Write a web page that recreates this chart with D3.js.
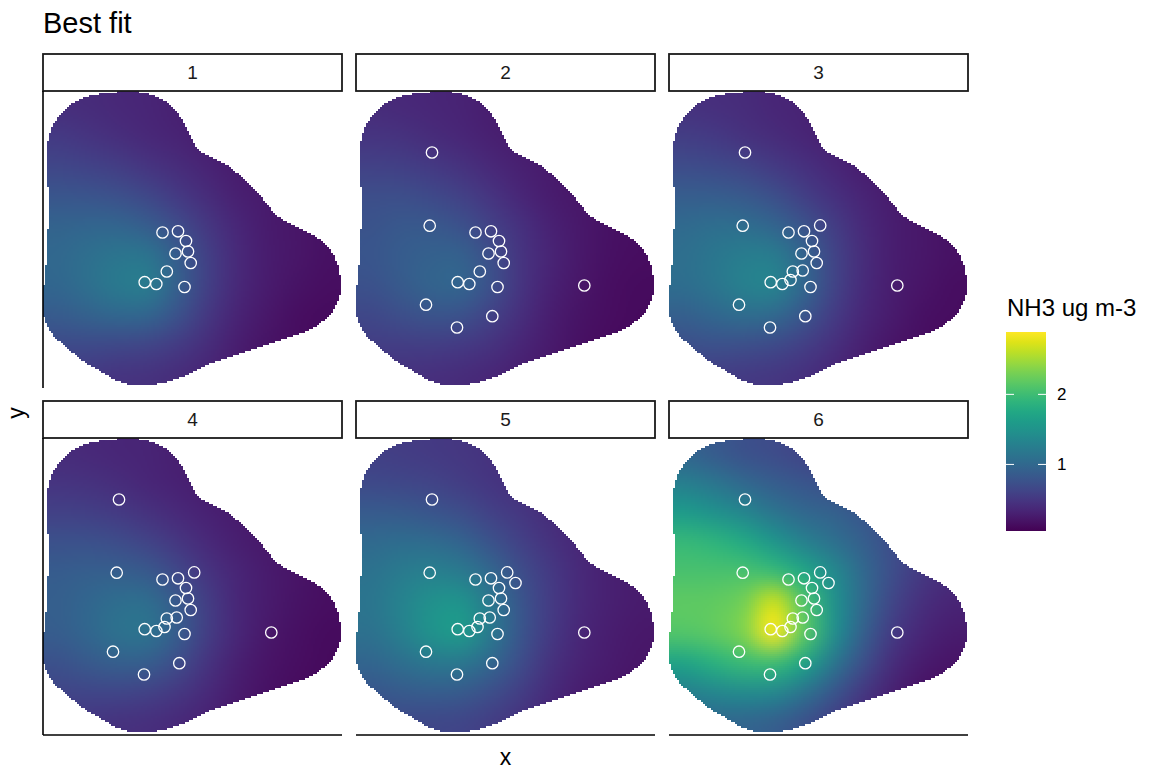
<!DOCTYPE html>
<html>
<head>
<meta charset="utf-8">
<script src="https://cdn.jsdelivr.net/npm/d3@7"></script>
<style>
body { margin: 0; background: #fff; }
text { font-family: "Liberation Sans", Arial, sans-serif; }
image { image-rendering: pixelated; }
</style>
</head>
<body>
<script>
// facet labels
var panels = ["1", "2", "3", "4", "5", "6"];

// monitoring sites (x, y in metres from the domain corner)
var siteX = [76, 73.7, 119.5, 135, 151.2, 159.5, 143, 132.5, 145, 147.7,
             133.7, 123.8, 121.5, 113.3, 101.7, 141.5, 228.3, 70, 136.3, 101];
var siteY = [235.5, 162.3, 155.5, 156.7, 162.6, 152, 147, 134.5, 136.5, 125,
             117.5, 116.5, 108, 104, 105.8, 101, 102.5, 83.3, 71.8, 60.5];

// which sites are used in each fit
var panelSites = [
    [2, 3, 6, 7, 8, 9, 11, 13, 14, 15],
    [0, 1, 2, 3, 6, 7, 8, 9, 11, 13, 14, 15, 16, 17, 18, 19],
    [0, 1, 2, 3, 4, 6, 7, 8, 9, 10, 11, 12, 13, 14, 15, 16, 17, 18, 19],
    [0, 1, 2, 3, 4, 6, 7, 8, 9, 10, 11, 12, 13, 14, 15, 16, 17, 18, 19],
    [0, 1, 2, 3, 4, 5, 6, 7, 8, 9, 10, 11, 12, 13, 14, 15, 16, 17, 18, 19],
    [0, 1, 2, 3, 4, 5, 6, 7, 8, 9, 10, 11, 12, 13, 14, 15, 16, 17, 18, 19]
];

// prediction grid, cell centres (rows listed north to south)
var gridX = [15, 45, 75, 105, 135, 165, 195, 225, 255, 285];
var gridY = [282, 252, 222, 192, 162, 132, 102, 72, 42, 12];

// NH3 ug m-3 on the grid, one block per fit
var field1 = [
    [0.42, 0.40, 0.37, 0.34, 0.30, 0.26, 0.22, 0.20, 0.18, 0.16],
    [0.52, 0.48, 0.42, 0.37, 0.32, 0.27, 0.23, 0.20, 0.18, 0.16],
    [0.64, 0.61, 0.55, 0.48, 0.40, 0.32, 0.26, 0.22, 0.19, 0.17],
    [0.80, 0.79, 0.74, 0.65, 0.52, 0.40, 0.30, 0.24, 0.20, 0.17],
    [0.94, 0.97, 0.96, 0.88, 0.70, 0.50, 0.35, 0.26, 0.21, 0.17],
    [1.00, 1.08, 1.15, 1.14, 0.86, 0.58, 0.38, 0.27, 0.21, 0.17],
    [0.98, 1.08, 1.20, 1.22, 0.90, 0.58, 0.37, 0.25, 0.19, 0.15],
    [0.85, 0.92, 0.98, 0.95, 0.75, 0.50, 0.32, 0.22, 0.16, 0.13],
    [0.68, 0.68, 0.66, 0.62, 0.53, 0.40, 0.28, 0.19, 0.14, 0.12],
    [0.55, 0.52, 0.48, 0.45, 0.40, 0.33, 0.24, 0.17, 0.13, 0.11]
];
var field2 = [
    [0.40, 0.38, 0.35, 0.32, 0.28, 0.24, 0.21, 0.19, 0.17, 0.15],
    [0.48, 0.45, 0.40, 0.35, 0.30, 0.25, 0.22, 0.19, 0.17, 0.15],
    [0.60, 0.58, 0.52, 0.45, 0.37, 0.30, 0.24, 0.20, 0.17, 0.15],
    [0.72, 0.72, 0.68, 0.60, 0.48, 0.36, 0.27, 0.21, 0.18, 0.15],
    [0.78, 0.82, 0.82, 0.76, 0.60, 0.44, 0.31, 0.23, 0.18, 0.15],
    [0.80, 0.86, 0.92, 0.92, 0.72, 0.48, 0.33, 0.23, 0.17, 0.14],
    [0.76, 0.84, 0.94, 0.95, 0.74, 0.48, 0.31, 0.21, 0.16, 0.13],
    [0.66, 0.72, 0.78, 0.76, 0.60, 0.42, 0.28, 0.19, 0.14, 0.12],
    [0.55, 0.56, 0.56, 0.52, 0.45, 0.34, 0.24, 0.17, 0.13, 0.11],
    [0.46, 0.45, 0.43, 0.40, 0.35, 0.29, 0.21, 0.15, 0.12, 0.10]
];
var field3 = [
    [0.45, 0.43, 0.40, 0.36, 0.32, 0.28, 0.24, 0.21, 0.19, 0.17],
    [0.55, 0.52, 0.46, 0.40, 0.34, 0.29, 0.25, 0.22, 0.19, 0.17],
    [0.70, 0.68, 0.62, 0.53, 0.44, 0.35, 0.28, 0.23, 0.20, 0.18],
    [0.88, 0.88, 0.83, 0.73, 0.58, 0.44, 0.33, 0.26, 0.21, 0.18],
    [1.02, 1.06, 1.05, 0.97, 0.78, 0.55, 0.38, 0.28, 0.22, 0.18],
    [1.08, 1.17, 1.24, 1.23, 0.95, 0.62, 0.40, 0.28, 0.22, 0.18],
    [1.05, 1.15, 1.28, 1.30, 0.98, 0.62, 0.39, 0.27, 0.20, 0.16],
    [0.90, 0.98, 1.04, 1.00, 0.80, 0.54, 0.35, 0.24, 0.17, 0.14],
    [0.72, 0.74, 0.72, 0.68, 0.57, 0.43, 0.30, 0.20, 0.15, 0.12],
    [0.58, 0.56, 0.53, 0.50, 0.44, 0.36, 0.26, 0.18, 0.14, 0.12]
];
var field4 = [
    [0.40, 0.38, 0.36, 0.33, 0.29, 0.25, 0.21, 0.19, 0.17, 0.15],
    [0.48, 0.46, 0.41, 0.36, 0.31, 0.26, 0.22, 0.19, 0.17, 0.15],
    [0.60, 0.58, 0.53, 0.46, 0.38, 0.31, 0.25, 0.21, 0.18, 0.16],
    [0.75, 0.75, 0.71, 0.62, 0.50, 0.38, 0.29, 0.23, 0.19, 0.16],
    [0.86, 0.90, 0.90, 0.84, 0.67, 0.48, 0.34, 0.25, 0.20, 0.16],
    [0.90, 0.98, 1.06, 1.07, 0.83, 0.55, 0.36, 0.25, 0.19, 0.15],
    [0.88, 0.98, 1.10, 1.12, 0.86, 0.55, 0.35, 0.23, 0.17, 0.13],
    [0.76, 0.83, 0.90, 0.88, 0.70, 0.47, 0.30, 0.20, 0.15, 0.12],
    [0.62, 0.63, 0.63, 0.60, 0.50, 0.38, 0.26, 0.18, 0.13, 0.11],
    [0.50, 0.49, 0.46, 0.43, 0.38, 0.31, 0.22, 0.16, 0.12, 0.10]
];
var field5 = [
    [0.58, 0.56, 0.53, 0.50, 0.45, 0.40, 0.35, 0.31, 0.28, 0.25],
    [0.68, 0.66, 0.62, 0.56, 0.49, 0.42, 0.36, 0.32, 0.28, 0.25],
    [0.85, 0.84, 0.80, 0.72, 0.60, 0.50, 0.40, 0.33, 0.29, 0.26],
    [1.02, 1.05, 1.04, 0.95, 0.78, 0.60, 0.46, 0.36, 0.30, 0.26],
    [1.12, 1.22, 1.28, 1.22, 1.00, 0.72, 0.52, 0.38, 0.30, 0.26],
    [1.15, 1.30, 1.48, 1.52, 1.18, 0.80, 0.54, 0.38, 0.30, 0.25],
    [1.10, 1.26, 1.50, 1.58, 1.20, 0.80, 0.52, 0.36, 0.28, 0.23],
    [0.96, 1.06, 1.18, 1.18, 0.98, 0.70, 0.46, 0.32, 0.25, 0.21],
    [0.80, 0.84, 0.86, 0.84, 0.72, 0.55, 0.39, 0.28, 0.22, 0.19],
    [0.66, 0.67, 0.66, 0.63, 0.56, 0.45, 0.33, 0.25, 0.20, 0.17]
];
var field6 = [
    [0.95, 0.85, 0.75, 0.70, 0.62, 0.55, 0.48, 0.42, 0.36, 0.32],
    [1.25, 1.15, 1.00, 0.88, 0.80, 0.72, 0.62, 0.52, 0.44, 0.38],
    [1.60, 1.50, 1.35, 1.15, 1.00, 0.92, 0.80, 0.65, 0.52, 0.44],
    [1.95, 1.90, 1.78, 1.55, 1.30, 1.10, 0.90, 0.70, 0.55, 0.45],
    [2.08, 2.08, 2.08, 2.00, 1.75, 1.40, 1.00, 0.70, 0.50, 0.40],
    [2.18, 2.20, 2.30, 2.68, 2.12, 1.50, 1.00, 0.62, 0.42, 0.33],
    [2.12, 2.18, 2.35, 2.85, 2.18, 1.46, 0.90, 0.52, 0.34, 0.27],
    [1.70, 1.85, 1.98, 2.00, 1.70, 1.16, 0.72, 0.40, 0.25, 0.20],
    [1.25, 1.35, 1.40, 1.36, 1.12, 0.80, 0.50, 0.30, 0.18, 0.15],
    [0.95, 0.98, 0.96, 0.90, 0.76, 0.56, 0.38, 0.24, 0.15, 0.12]
];
var fields = [field1, field2, field3, field4, field5, field6];

// model domain boundary (x, y)
var outline = [
    [17, 273], [30, 285], [50, 293], [74, 296], [97, 296], [117, 290], [130, 280],
    [140, 267], [147, 253], [154, 240], [164, 233], [184, 223], [200, 210],
    [214, 197], [227, 180], [237, 170], [250, 163], [270, 153], [284, 143],
    [292, 130], [297, 113], [297, 93], [290, 77], [280, 67], [264, 57],
    [244, 50], [224, 43], [204, 37], [184, 30], [164, 23], [144, 13], [124, 6],
    [97, 2], [77, 6], [57, 17], [40, 27], [24, 40], [10, 53], [2, 67], [0, 87],
    [2, 113], [4, 133], [5, 160], [7, 180], [5, 200], [4, 223], [5, 247], [10, 263]
];

var valueRange = [0.05, 2.89];
var legendTicks = [1, 2];

var width = 1156,
    height = 769;

var colX = [43, 356, 669],
    rowY = [91, 438],
    panelW = 299,
    panelH = 297,
    stripH = 37,
    cellHalf = 15,
    rasterN = 150; // output raster is 150 x 150 pixels

var color = d3.scaleSequential(d3.interpolateViridis).domain(valueRange);

var gx0 = gridX[0] - cellHalf,
    gx1 = gridX[gridX.length - 1] + cellHalf,
    gy0 = gridY[0] + cellHalf,
    gy1 = gridY[gridY.length - 1] - cellHalf;

// paint one grid as a raster, smoothed when scaled up, cut to the domain
function rasterUrl(grid) {
    var small = document.createElement("canvas");
    small.width = gridX.length;
    small.height = gridY.length;
    var ctx = small.getContext("2d");
    grid.forEach(function(row, r) {
        row.forEach(function(v, c) {
            ctx.fillStyle = color(v);
            ctx.fillRect(c, r, 1, 1);
        });
    });

    var big = document.createElement("canvas");
    big.width = rasterN;
    big.height = rasterN;
    var bctx = big.getContext("2d");
    bctx.imageSmoothingEnabled = true;
    bctx.imageSmoothingQuality = "high";
    bctx.drawImage(small, 0, 0, rasterN, rasterN);

    var px = d3.scaleLinear().domain([gx0, gx1]).range([0, rasterN]);
    var py = d3.scaleLinear().domain([gy0, gy1]).range([0, rasterN]);
    bctx.globalCompositeOperation = "destination-in";
    bctx.beginPath();
    d3.line()
        .x(function(d) { return px(d[0]); })
        .y(function(d) { return py(d[1]); })
        .curve(d3.curveCatmullRomClosed)
        .context(bctx)(outline);
    bctx.fillStyle = "#000";
    bctx.fill();

    // hard cell edges, as in a raster
    var img = bctx.getImageData(0, 0, rasterN, rasterN);
    for (var k = 3; k < img.data.length; k += 4) {
        img.data[k] = img.data[k] >= 128 ? 255 : 0;
    }
    bctx.globalCompositeOperation = "source-over";
    bctx.putImageData(img, 0, 0);
    return big.toDataURL();
}

var svg = d3.select("body").append("svg")
    .attr("width", width)
    .attr("height", height);

var defs = svg.append("defs");

svg.append("text")
    .attr("x", 43)
    .attr("y", 33)
    .attr("font-size", "29px")
    .attr("fill", "#000")
    .text("Best fit");

panels.forEach(function(label, i) {
    var x0 = colX[i % 3],
        y0 = rowY[Math.floor(i / 3)];

    var xs = d3.scaleLinear().domain([0, 299]).range([x0, x0 + panelW]);
    var ys = d3.scaleLinear().domain([0, 297]).range([y0 + panelH, y0]);

    svg.append("image")
        .attr("x", xs(gx0))
        .attr("y", ys(gy0))
        .attr("width", xs(gx1) - xs(gx0))
        .attr("height", ys(gy1) - ys(gy0))
        .attr("preserveAspectRatio", "none")
        .attr("href", rasterUrl(fields[i]));

    svg.append("g").selectAll("circle")
        .data(panelSites[i])
        .enter().append("circle")
        .attr("cx", function(d) { return xs(siteX[d]); })
        .attr("cy", function(d) { return ys(siteY[d]); })
        .attr("r", 5.7)
        .style("fill", "none")
        .style("stroke", "#fff")
        .style("stroke-width", 1.3);

    // strip
    svg.append("rect")
        .attr("x", x0)
        .attr("y", y0 - stripH)
        .attr("width", panelW)
        .attr("height", stripH)
        .style("fill", "#fff")
        .style("stroke", "#1a1a1a")
        .style("stroke-width", 1.8);
    svg.append("text")
        .attr("x", x0 + panelW / 2)
        .attr("y", y0 - stripH / 2)
        .attr("dy", "0.35em")
        .attr("text-anchor", "middle")
        .attr("font-size", "19px")
        .attr("fill", "#1a1a1a")
        .text(label);

    // axis lines
    if (i % 3 === 0) {
        svg.append("line")
            .attr("x1", x0).attr("x2", x0)
            .attr("y1", y0).attr("y2", y0 + panelH)
            .style("stroke", "#000")
            .style("stroke-width", 1.6);
    }
    if (i >= 3) {
        svg.append("line")
            .attr("x1", x0).attr("x2", x0 + panelW)
            .attr("y1", y0 + panelH).attr("y2", y0 + panelH)
            .style("stroke", "#000")
            .style("stroke-width", 1.6);
    }
});

// axis titles
svg.append("text")
    .attr("x", (colX[0] + colX[2] + panelW) / 2)
    .attr("y", 765)
    .attr("text-anchor", "middle")
    .attr("font-size", "23px")
    .text("x");
svg.append("text")
    .attr("transform", "translate(24," + ((rowY[0] + rowY[1] + panelH) / 2) + ") rotate(-90)")
    .attr("text-anchor", "middle")
    .attr("font-size", "23px")
    .text("y");

// colour bar
var legX = 1006,
    legTop = 332,
    legH = 199,
    legW = 40;

var grad = defs.append("linearGradient")
    .attr("id", "bar")
    .attr("x1", 0).attr("y1", 1)
    .attr("x2", 0).attr("y2", 0);
d3.range(0, 1.0001, 0.05).forEach(function(t) {
    grad.append("stop")
        .attr("offset", t)
        .attr("stop-color", d3.interpolateViridis(t));
});

var legY = d3.scaleLinear().domain(valueRange).range([legTop + legH, legTop]);

svg.append("text")
    .attr("x", legX + 1)
    .attr("y", 316)
    .attr("font-size", "24px")
    .text("NH3 ug m-3");

svg.append("rect")
    .attr("x", legX)
    .attr("y", legTop)
    .attr("width", legW)
    .attr("height", legH)
    .style("fill", "url(#bar)");

var tk = svg.append("g").selectAll("g")
    .data(legendTicks)
    .enter().append("g");
tk.append("line")
    .attr("x1", legX).attr("x2", legX + 8)
    .attr("y1", function(d) { return legY(d); })
    .attr("y2", function(d) { return legY(d); })
    .style("stroke", "#fff").style("stroke-width", 1);
tk.append("line")
    .attr("x1", legX + legW - 8).attr("x2", legX + legW)
    .attr("y1", function(d) { return legY(d); })
    .attr("y2", function(d) { return legY(d); })
    .style("stroke", "#fff").style("stroke-width", 1);
tk.append("text")
    .attr("x", legX + legW + 11)
    .attr("y", function(d) { return legY(d); })
    .attr("dy", "0.35em")
    .attr("font-size", "17px")
    .text(function(d) { return d; });
</script>
</body>
</html>
